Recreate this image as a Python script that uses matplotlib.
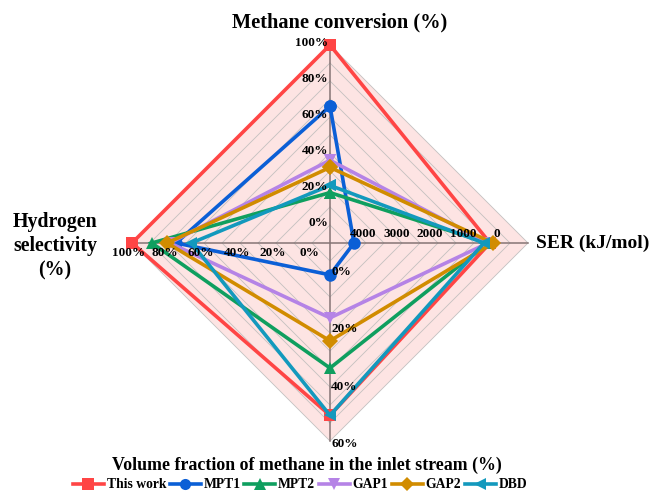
import numpy as np
import matplotlib
matplotlib.use("Agg")
import matplotlib.pyplot as plt
from matplotlib.lines import Line2D

# ---------------- data ----------------
series = ["This work", "MPT1", "MPT2", "GAP1", "GAP2", "DBD"]
methane_conv = [100, 66, 18, 36, 32, 22]          # % (top axis)
ser = [210, 4270, 270, 270, 120, 390]             # kJ/mol (right axis, reversed)
vol_frac = [50, 1, 33.5, 16, 24, 50]              # % (bottom axis)
h2_sel = [100, 75.5, 89, 79, 80.5, 67]            # % (left axis)

conv_ticks = [0, 20, 40, 60, 80, 100]
ser_ticks = [4000, 3000, 2000, 1000, 0]
vol_ticks = [0, 20, 40, 60]
sel_ticks = [100, 80, 60, 40, 20, 0]

colors = ["#FF4545", "#0B5FD6", "#0F9F5F", "#B583E6", "#D18C00", "#1399BD"]
markers = ["s", "o", "^", "v", "D", "<"]

# ---------------- layout ----------------
W, H = 654, 493
cx, cy, R = 330, 243, 198
UMIN, UMAX = -10, 100

def dist(u):
    return (u - UMIN) / (UMAX - UMIN) * R

def u_top(v):
    return v

def u_left(v):
    return v

def u_right(s):
    return 82.8 - 0.01861 * s

def u_bottom(v):
    return 6.11 + 1.593 * v

fig = plt.figure(figsize=(W / 100, H / 100), dpi=100)
ax = fig.add_axes([0, 0, 1, 1])
ax.set_xlim(0, W)
ax.set_ylim(H, 0)
ax.axis("off")

serif = "Liberation Serif"

# background fill
ax.fill([cx, cx + R, cx, cx - R], [cy - R, cy, cy + R, cy], color="#FDE4E3", zorder=0, lw=0)

# grid rings
for u in range(UMIN + 10, UMAX + 1, 10):
    d = dist(u)
    ax.plot([cx, cx + d, cx, cx - d, cx], [cy - d, cy, cy + d, cy, cy - d],
            color="#C4C0C0", lw=0.6, zorder=1)
# spokes
ax.plot([cx, cx], [cy - R, cy + R], color="#857575", lw=1.1, zorder=1.5)
ax.plot([cx - R, cx + R], [cy, cy], color="#857575", lw=1.1, zorder=1.5)

# series
LW = 2.6
for i, name in enumerate(series):
    dt = dist(u_top(methane_conv[i]))
    dr = dist(u_right(ser[i]))
    db = dist(u_bottom(vol_frac[i]))
    dl = dist(u_left(h2_sel[i]))
    xs = [cx, cx + dr, cx, cx - dl, cx]
    ys = [cy - dt, cy, cy + db, cy, cy - dt]
    ms = 9 if markers[i] != "D" else 8
    ax.plot(xs, ys, color=colors[i], lw=LW, marker=markers[i], ms=ms,
            markeredgewidth=0, zorder=3 + i, solid_joinstyle="miter")

# tick labels
tkw = dict(fontfamily=serif, fontweight="bold", fontsize=9.5, zorder=20)
for v in conv_ticks:
    ax.text(328, cy - dist(u_top(v)) - 2, f"{v}%", ha="right", va="center", **tkw)
for v in sel_ticks:
    ax.text(cx - dist(u_left(v)) - 3, 253, f"{v}%", ha="center", va="center", **tkw)
for s in ser_ticks:
    ax.text(cx + dist(u_right(s)), 234, f"{s}", ha="center", va="center", **tkw)
for v in vol_ticks:
    ax.text(331, cy + dist(u_bottom(v)), f"{v}%", ha="left", va="center", **tkw)

# axis titles
ttl = dict(fontfamily=serif, fontweight="bold", zorder=20)
ax.text(340, 22, "Methane conversion (%)", ha="center", va="center", fontsize=14.7, **ttl)
ax.text(536, 243, "SER (kJ/mol)", ha="left", va="center", fontsize=14, **ttl)
ax.text(55, 246, "Hydrogen\nselectivity\n(%)", ha="center", va="center",
        linespacing=1.3, fontsize=14.3, **ttl)
ax.text(307, 465, "Volume fraction of methane in the inlet stream (%)",
        ha="center", va="center", fontsize=12.9, **ttl)

# legend
handles = [Line2D([0], [0], color=colors[i], lw=LW, marker=markers[i],
                  ms=8 if markers[i] != "D" else 7, markeredgewidth=0)
           for i in range(len(series))]
fig.legend(handles, series, loc="center", bbox_to_anchor=(300 / W, 1 - 485 / H),
           ncol=6, frameon=False, handlelength=2.3, handletextpad=0.2,
           columnspacing=0.25, borderpad=0,
           prop=dict(family=serif, weight="bold", size=9.8))

fig.savefig("out.png", dpi=100)
